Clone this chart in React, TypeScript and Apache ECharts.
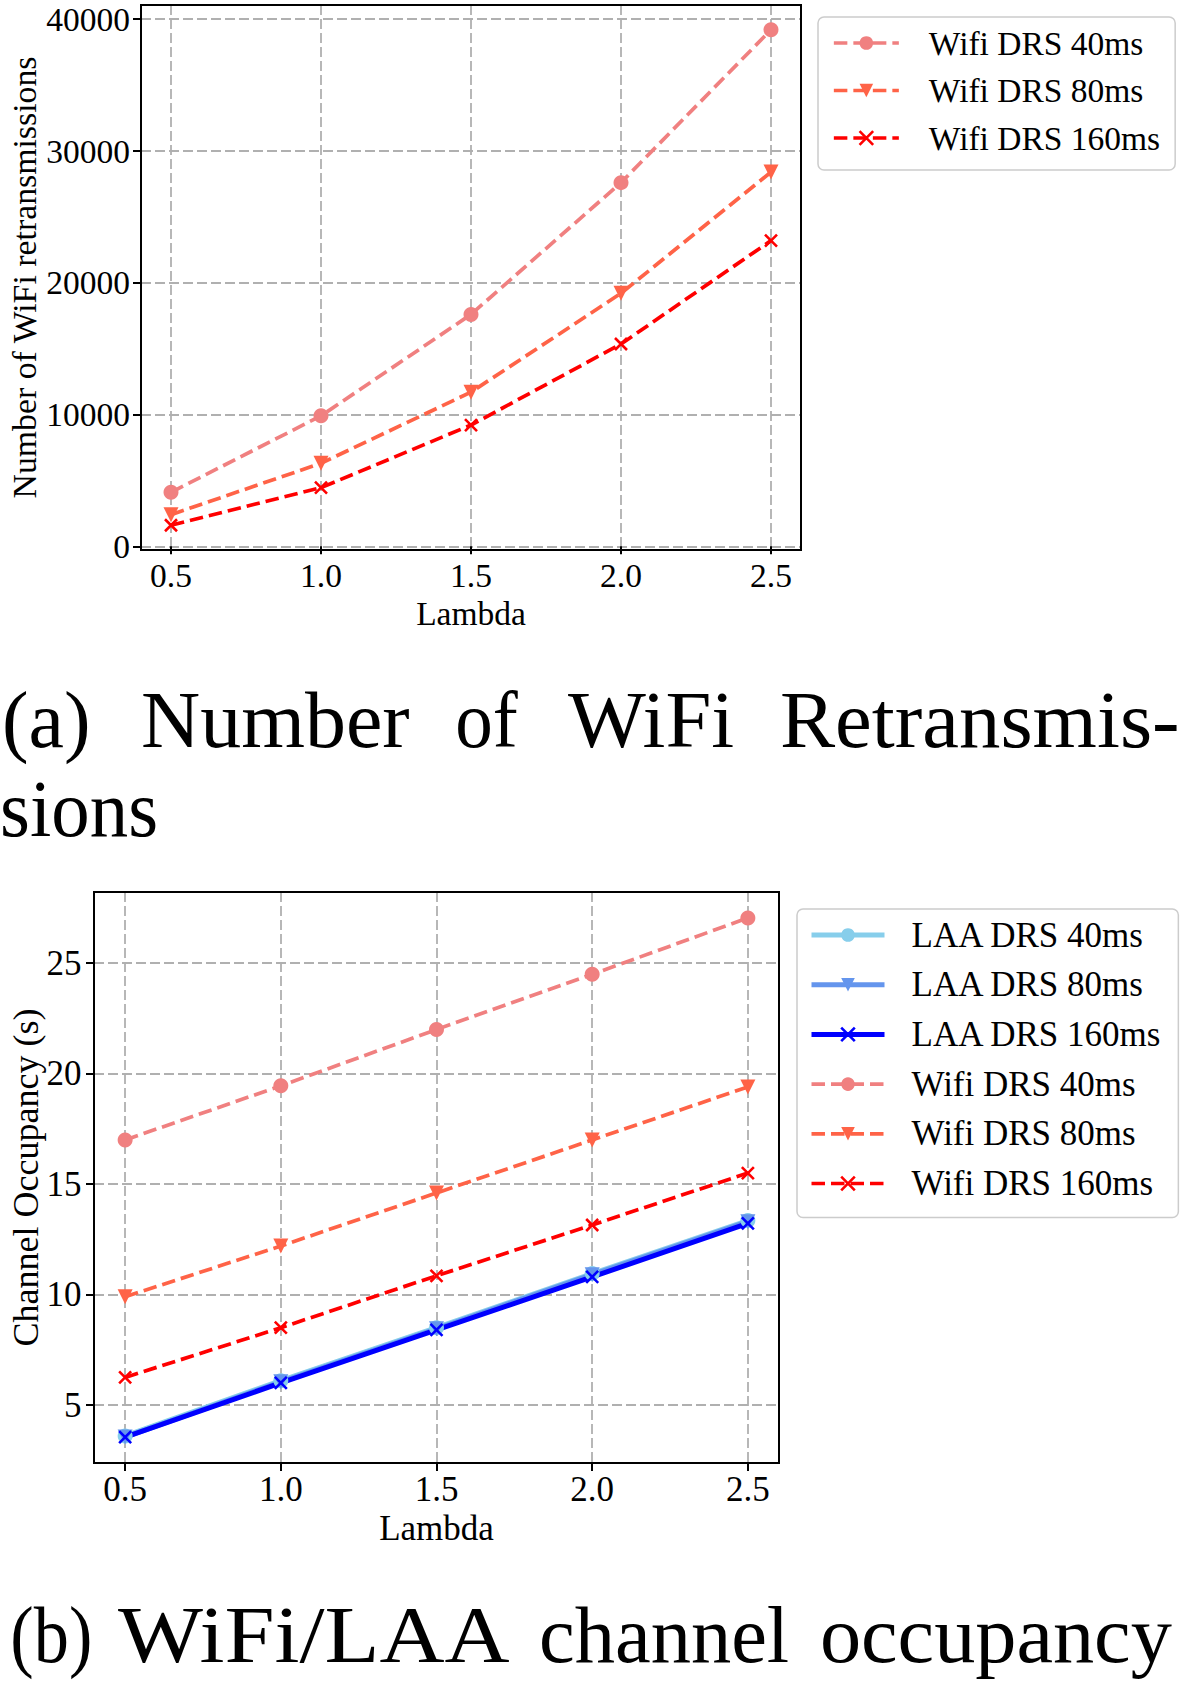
import React, { useEffect, useRef } from "react";
import * as echarts from "echarts";

// ---------------- data ----------------
const lambdaValues = [0.5, 1.0, 1.5, 2.0, 2.5];

const retxWifi40 = [4100, 9900, 17600, 27600, 39200];
const retxWifi80 = [2400, 6300, 11700, 19200, 28400];
const retxWifi160 = [1600, 4450, 9200, 15350, 23200];

const occLaa40 = [3.6, 6.1, 8.5, 10.95, 13.35];
const occLaa80 = [3.55, 6.05, 8.45, 10.9, 13.3];
const occLaa160 = [3.55, 6.0, 8.4, 10.8, 13.22];
const occWifi40 = [17.0, 19.45, 22.0, 24.5, 27.05];
const occWifi80 = [9.9, 12.2, 14.6, 17.0, 19.4];
const occWifi160 = [6.25, 8.5, 10.85, 13.15, 15.5];

const xTickValues = [0.5, 1.0, 1.5, 2.0, 2.5];
const retxTickValues = [0, 10000, 20000, 30000, 40000];
const occTickValues = [5, 10, 15, 20, 25];

const wifiNames = ["Wifi DRS 40ms", "Wifi DRS 80ms", "Wifi DRS 160ms"];
const laaNames = ["LAA DRS 40ms", "LAA DRS 80ms", "LAA DRS 160ms"];

const xName = "Lambda";
const retxYName = "Number of WiFi retransmissions";
const occYName = "Channel Occupancy (s)";

// ---------------- layout ----------------
const W = 1181;
const H = 1683;
const GRID_A = { left: 141, top: 5, width: 660, height: 545 };
const GRID_B = { left: 94, top: 892, width: 685, height: 571 };
const FONT = "Liberation Serif";

const CAPTION_A1: [string, number, number][] = [
  ["(a)", 5, 88],
  ["Number", 143, 409],
  ["of", 458, 518],
  ["WiFi", 568, 733],
  ["Retransmis-", 782, 1177],
];
const CAPTION_A2: [string, number, number][] = [["sions", 3, 156]];
const CAPTION_B: [string, number, number][] = [
  ["(b)", 13, 90],
  ["WiFi/LAA", 118, 510],
  ["channel", 542, 788],
  ["occupancy", 823, 1172],
];

const COLORS = {
  wifi40: "#F08080",
  wifi80: "#FF6347",
  wifi160: "#FF0000",
  laa40: "#87CEEB",
  laa80: "#6495ED",
  laa160: "#0000FF",
};

const CROSS = "path://M0,0L10,10M10,0L0,10";

function padExtent(arrs: number[][]) {
  const all = arrs.flat();
  const mn = Math.min(...all);
  const mx = Math.max(...all);
  const m = (mx - mn) * 0.05;
  return [mn - m, mx + m];
}

function makeSeries(
  name: string,
  values: number[],
  color: string,
  marker: "circle" | "tri" | "x",
  dashed: boolean,
  width: number,
  idx: number
) {
  return {
    type: "line",
    name,
    xAxisIndex: idx,
    yAxisIndex: idx,
    data: lambdaValues.map((x, i) => [x, values[i]]),
    symbol: marker === "circle" ? "circle" : marker === "tri" ? "triangle" : CROSS,
    symbolRotate: marker === "tri" ? 180 : 0,
    symbolSize: marker === "x" ? 12 : 15,
    showSymbol: true,
    silent: true,
    emphasis: { disabled: true },
    lineStyle: { color, width, type: dashed ? [13.5, 6] : "solid" },
    itemStyle: {
      color,
      borderColor: color,
      borderWidth: marker === "x" ? 2.6 : 0,
    },
  };
}

function captionWords(words: [string, number, number][], baseline: number, fontSize: number) {
  const canvas = document.createElement("canvas");
  const ctx = canvas.getContext("2d")!;
  ctx.font = `${fontSize}px "${FONT}"`;
  return words.map(([text, x0, x1]) => {
    const m = ctx.measureText(text);
    const L = m.actualBoundingBoxLeft || 0;
    const R = m.actualBoundingBoxRight || m.width;
    const ink = L + R || m.width;
    const s = (x1 - x0) / ink;
    return {
      type: "text",
      x: x0 + L * s,
      y: baseline - 0.3375 * fontSize,
      scaleX: s,
      silent: true,
      z: 100,
      style: {
        text,
        fontSize,
        fontFamily: FONT,
        fill: "#000",
        align: "left",
        verticalAlign: "middle",
      },
    };
  });
}

function axisPair(
  grid: number,
  xExt: number[],
  yExt: number[],
  yTicks: number[],
  fontSize: number,
  nameFontSize: number,
  yFmt: (v: number) => string,
  xNameGap: number,
  yNameGap: number,
  yLabelMargin: number,
  yName: string
) {
  const gridLine = {
    show: true,
    showMinLine: true,
    showMaxLine: true,
    lineStyle: { color: "#b0b0b0", width: 1.8, type: [10, 4] },
  };
  const tick = { show: true, inside: false, length: 8, lineStyle: { color: "#000", width: 2 } };
  const x = {
    type: "value",
    gridIndex: grid,
    min: xExt[0],
    max: xExt[1],
    axisLine: { show: false },
    axisTick: { ...tick, customValues: xTickValues },
    axisLabel: {
      customValues: xTickValues,
      formatter: (v: number) => v.toFixed(1),
      fontFamily: FONT,
      fontSize,
      color: "#000",
      margin: 8.5,
      lineHeight: Math.round(fontSize),
    },
    splitLine: gridLine,
    name: xName,
    nameLocation: "middle",
    nameGap: xNameGap,
    nameMoveOverlap: false,
    nameTextStyle: { fontFamily: FONT, fontSize, color: "#000", lineHeight: Math.round(fontSize) },
  };
  const y = {
    type: "value",
    gridIndex: grid,
    min: yExt[0],
    max: yExt[1],
    axisLine: { show: false },
    axisTick: { ...tick, customValues: yTicks },
    axisLabel: {
      customValues: yTicks,
      formatter: yFmt,
      fontFamily: FONT,
      fontSize,
      color: "#000",
      margin: yLabelMargin,
      lineHeight: 26,
    },
    splitLine: gridLine,
    name: yName,
    nameLocation: "middle",
    nameGap: yNameGap,
    nameMoveOverlap: false,
    nameTextStyle: {
      fontFamily: FONT,
      fontSize: nameFontSize,
      color: "#000",
      lineHeight: Math.round(nameFontSize),
    },
  };
  return { x, y };
}

function buildOption() {
  const xExt = padExtent([lambdaValues]);
  const yExtA = padExtent([retxWifi40, retxWifi80, retxWifi160]);
  const yExtB = padExtent([occLaa40, occLaa80, occLaa160, occWifi40, occWifi80, occWifi160]);

  const a = axisPair(0, xExt, yExtA, retxTickValues, 33.5, 33.8, (v) => String(v), 46.5, 100, 11, retxYName);
  const b = axisPair(1, xExt, yExtB, occTickValues, 35, 36, (v) => String(v), 48, 50, 12.5, occYName);

  const wifiW = 3.7;
  const laaW = 5;

  const legendCommon = {
    orient: "vertical",
    selectedMode: false,
    borderColor: "#cccccc",
    borderWidth: 1.5,
    borderRadius: 6,
    backgroundColor: "#ffffff",
    lineStyle: { width: "inherit" },
    itemStyle: { borderWidth: "inherit" },
  };

  const frame = (g: typeof GRID_A) => ({
    type: "rect",
    z: 100,
    silent: true,
    shape: { x: g.left, y: g.top, width: g.width, height: g.height },
    style: { fill: "none", stroke: "#000", lineWidth: 2 },
  });

  return {
    animation: false,
    backgroundColor: "#ffffff",
    grid: [
      { ...GRID_A, containLabel: false, outerBoundsMode: "none" },
      { ...GRID_B, containLabel: false, outerBoundsMode: "none" },
    ],
    xAxis: [a.x, b.x],
    yAxis: [a.y, b.y],
    legend: [
      {
        ...legendCommon,
        data: wifiNames,
        left: 818,
        top: 17,
        itemWidth: 65,
        itemHeight: 17,
        itemGap: 13.5,
        padding: [9, 15, 15, 14],
        textStyle: { fontFamily: FONT, fontSize: 33.5, color: "#000", lineHeight: 34, padding: [0, 0, 0, 25] },
      },
      {
        ...legendCommon,
        data: [...laaNames, ...wifiNames],
        left: 797,
        top: 909,
        itemWidth: 73,
        itemHeight: 17,
        itemGap: 14.7,
        padding: [8.5, 16, 16.5, 12],
        textStyle: { fontFamily: FONT, fontSize: 35, color: "#000", lineHeight: 35, padding: [0, 0, 0, 22] },
      },
    ],
    series: [
      makeSeries(wifiNames[0], retxWifi40, COLORS.wifi40, "circle", true, wifiW, 0),
      makeSeries(wifiNames[1], retxWifi80, COLORS.wifi80, "tri", true, wifiW, 0),
      makeSeries(wifiNames[2], retxWifi160, COLORS.wifi160, "x", true, wifiW, 0),
      makeSeries(laaNames[0], occLaa40, COLORS.laa40, "circle", false, laaW, 1),
      makeSeries(laaNames[1], occLaa80, COLORS.laa80, "tri", false, laaW, 1),
      makeSeries(laaNames[2], occLaa160, COLORS.laa160, "x", false, laaW, 1),
      makeSeries(wifiNames[0], occWifi40, COLORS.wifi40, "circle", true, wifiW, 1),
      makeSeries(wifiNames[1], occWifi80, COLORS.wifi80, "tri", true, wifiW, 1),
      makeSeries(wifiNames[2], occWifi160, COLORS.wifi160, "x", true, wifiW, 1),
    ],
    graphic: [
      frame(GRID_A),
      frame(GRID_B),
      ...captionWords(CAPTION_A1, 747, 80),
      ...captionWords(CAPTION_A2, 836, 80),
      ...captionWords(CAPTION_B, 1662, 80),
    ],
  };
}

export default function App() {
  const ref = useRef<HTMLDivElement>(null);
  useEffect(() => {
    if (!ref.current) return;
    const chart = echarts.init(ref.current, null, { renderer: "svg" });
    chart.setOption(buildOption() as any);
    return () => chart.dispose();
  }, []);
  return (
    <div
      ref={ref}
      style={{ position: "absolute", left: 0, top: 0, width: W, height: H, background: "#fff" }}
    />
  );
}
